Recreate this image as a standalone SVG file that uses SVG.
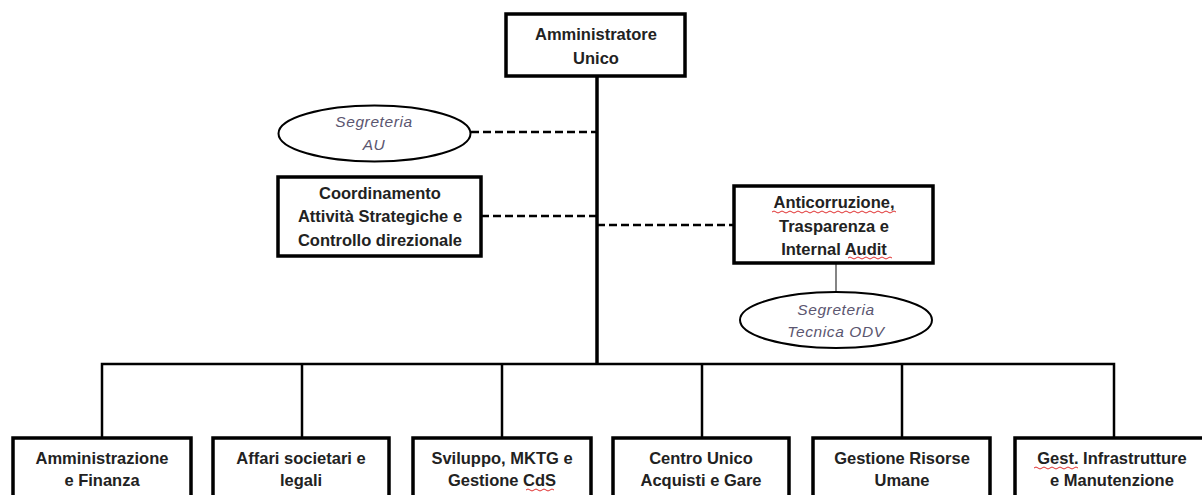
<svg xmlns="http://www.w3.org/2000/svg" width="1202" height="495" viewBox="0 0 1202 495">
<style>
.box{fill:#fff;stroke:#000;stroke-width:3.5}
.ell{fill:#fff;stroke:#000;stroke-width:2}
.t{font-family:"Liberation Sans",Arial,sans-serif;font-weight:bold;font-size:16.5px;fill:#222;text-anchor:middle}
.i{font-family:"Liberation Sans",Arial,sans-serif;font-style:italic;font-size:15.5px;fill:#5b5670;text-anchor:middle;letter-spacing:0.6px}
.solid{fill:none;stroke:#000;stroke-width:2.5}
.main{fill:none;stroke:#000;stroke-width:3.5}
.dash{fill:none;stroke:#000;stroke-width:2.5;stroke-dasharray:8 4}
.thin{fill:none;stroke:#333;stroke-width:1.2}
.wavy{fill:none;stroke:#e03030;stroke-width:1}
</style>
<rect width="1202" height="495" fill="#fff"/>
<g id="connectors">
<path class="main" d="M597 76V364"/>
<path class="solid" d="M102 438V364H1114V438M302 364V438M502 364V438M702 364V438M902 364V438"/>
<path class="dash" d="M471 132H597M481 216H597M597 225H734"/>
<path class="thin" d="M836 263V292"/>
</g>
<g id="amministratore-unico">
<rect class="box" x="506" y="14" width="179" height="62"/>
<text class="t" x="596" y="40">Amministratore</text>
<text class="t" x="596" y="64">Unico</text>
</g>
<g id="segreteria-au">
<ellipse class="ell" cx="374.5" cy="133.5" rx="96" ry="28"/>
<text class="i" x="374" y="127">Segreteria</text>
<text class="i" x="374" y="150">AU</text>
</g>
<g id="coordinamento">
<rect class="box" x="278" y="177" width="203" height="79"/>
<text class="t" x="380" y="199">Coordinamento</text>
<text class="t" x="380" y="222">Attività Strategiche e</text>
<text class="t" x="380" y="246">Controllo direzionale</text>
</g>
<g id="anticorruzione">
<rect class="box" x="734" y="186" width="199" height="77"/>
<text class="t" x="834" y="208">Anticorruzione,</text>
<text class="t" x="834" y="232">Trasparenza e</text>
<text class="t" x="834" y="255">Internal Audit</text>
<path class="wavy" d="M772 212q2 -2 4 0t4 0t4 0t4 0t4 0t4 0t4 0t4 0t4 0t4 0t4 0t4 0t4 0t4 0t4 0t4 0t4 0t4 0t4 0t4 0t4 0t4 0t4 0t4 0t4 0t4 0t4 0t4 0t4 0t4 0t4 0"/>
<path class="wavy" d="M848 258q2 -2 4 0t4 0t4 0t4 0t4 0t4 0t4 0t4 0t4 0t4 0t4 0"/>
</g>
<g id="segreteria-tecnica-odv">
<ellipse class="ell" cx="836" cy="320" rx="96" ry="28"/>
<text class="i" x="836" y="315">Segreteria</text>
<text class="i" x="836" y="337">Tecnica ODV</text>
</g>
<g id="amministrazione-finanza">
<rect class="box" x="13" y="438" width="178" height="80"/>
<text class="t" x="102" y="464">Amministrazione</text>
<text class="t" x="102" y="486">e Finanza</text>
</g>
<g id="affari-societari">
<rect class="box" x="213" y="438" width="176" height="80"/>
<text class="t" x="301" y="464">Affari societari e</text>
<text class="t" x="301" y="486">legali</text>
</g>
<g id="sviluppo-mktg">
<rect class="box" x="413" y="438" width="178" height="80"/>
<text class="t" x="502" y="464">Sviluppo, MKTG e</text>
<text class="t" x="502" y="486">Gestione CdS</text>
<path class="wavy" d="M526 490q2 -2 4 0t4 0t4 0t4 0t4 0t4 0t4 0"/>
</g>
<g id="centro-unico-acquisti">
<rect class="box" x="613" y="438" width="176" height="80"/>
<text class="t" x="701" y="464">Centro Unico</text>
<text class="t" x="701" y="486">Acquisti e Gare</text>
</g>
<g id="gestione-risorse-umane">
<rect class="box" x="813" y="438" width="177" height="80"/>
<text class="t" x="902" y="464">Gestione Risorse</text>
<text class="t" x="902" y="486">Umane</text>
</g>
<g id="gest-infrastrutture">
<rect class="box" x="1015" y="438" width="200" height="80"/>
<text class="t" x="1112" y="464">Gest. Infrastrutture</text>
<text class="t" x="1112" y="486">e Manutenzione</text>
<path class="wavy" d="M1034 468q2 -2 4 0t4 0t4 0t4 0t4 0t4 0t4 0t4 0t4 0t4 0t4 0"/>
</g>
</svg>
